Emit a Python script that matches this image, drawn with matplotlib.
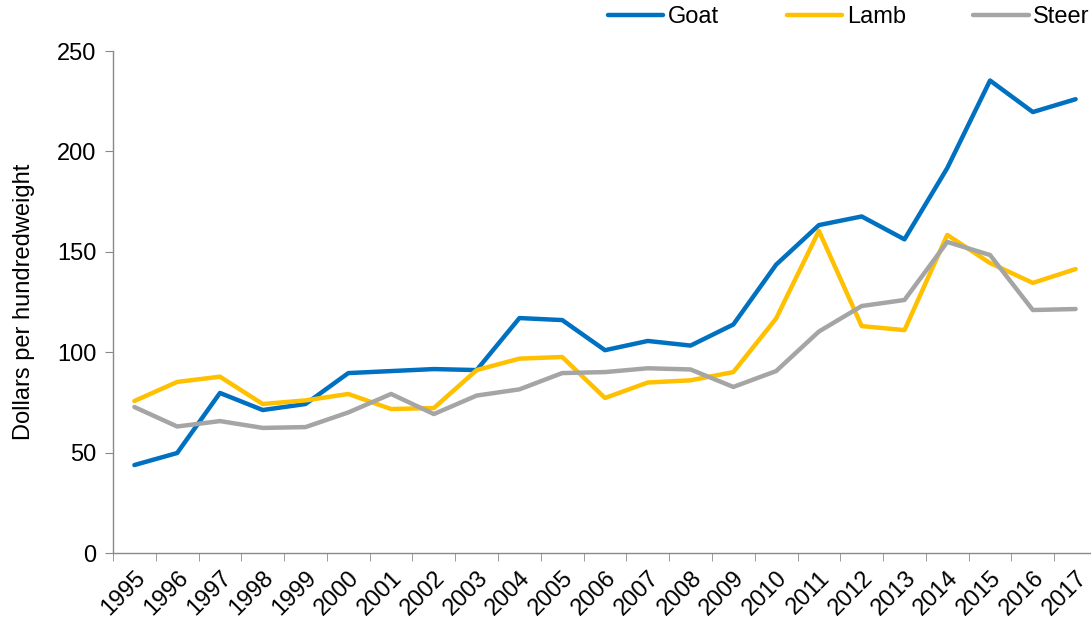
import matplotlib.pyplot as plt
import numpy as np

plt.rcParams["font.family"] = ["Liberation Sans", "DejaVu Sans"]

years = [str(y) for y in range(1995, 2018)]
goat = [43.8, 49.8, 79.7, 71.2, 74.2, 89.6, 90.6, 91.6, 91.1, 117.0, 116.0, 101.0,
        105.6, 103.3, 113.8, 143.6, 163.3, 167.6, 156.2, 191.7, 235.3, 219.6, 226.0]
lamb = [75.7, 85.2, 87.8, 74.2, 76.0, 79.2, 71.7, 72.2, 91.1, 96.8, 97.6, 77.2,
        84.9, 86.0, 90.1, 116.8, 160.4, 113.0, 111.0, 158.4, 144.4, 134.5, 141.4]
steer = [72.7, 63.0, 65.7, 62.3, 62.7, 70.0, 79.2, 69.2, 78.4, 81.5, 89.6, 90.1,
         92.0, 91.4, 82.7, 90.6, 110.3, 123.0, 126.0, 154.9, 148.4, 121.0, 121.5]

series = [("Goat", goat, "#0070C0"), ("Lamb", lamb, "#FFC000"), ("Steer", steer, "#A5A5A5")]

fig = plt.figure(figsize=(10.91, 6.24), dpi=100)
ax = fig.add_axes([113 / 1091, 1 - 553 / 624, 984 / 1091, (553 - 51) / 624])

x = np.arange(len(years))
for name, vals, col in series:
    ax.plot(x, vals, color=col, lw=3.2, label=name, solid_capstyle="round")

ax.set_xlim(-0.5, len(years) - 0.5)
ax.set_ylim(0, 250)
ax.set_yticks(range(0, 251, 50))
ax.set_xticks(x)
ax.set_xticklabels(years, rotation=45, ha="right", rotation_mode="anchor")
ax.set_xticks(np.arange(-0.5, len(years), 1), minor=True)
ax.tick_params(axis="x", which="major", length=0, labelsize=17, pad=10)
ax.tick_params(axis="x", which="minor", length=6, color="#898989", direction="out")
ax.tick_params(axis="y", length=6, color="#898989", labelsize=17, pad=6)

for s in ["top", "right"]:
    ax.spines[s].set_visible(False)
for s in ["left", "bottom"]:
    ax.spines[s].set_color("#898989")
    ax.spines[s].set_linewidth(1)

ax.set_ylabel("Dollars per hundredweight", fontsize=17, labelpad=16)

fig.legend(loc="center left", bbox_to_anchor=(608 / 1091, 1 - 17 / 624), ncol=3,
           frameon=False, fontsize=17, borderpad=0, borderaxespad=0,
           handlelength=2.35, handletextpad=0.2, columnspacing=2.85)

fig.savefig("out.png", dpi=100)
